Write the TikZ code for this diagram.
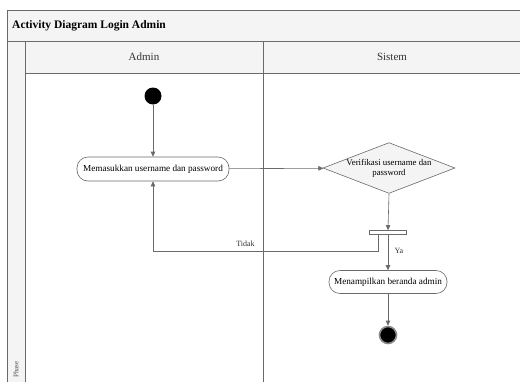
\documentclass[tikz,border=0pt]{standalone}
\usepackage{fontspec}
\setmainfont{Liberation Serif}
\usetikzlibrary{arrows.meta,shapes.geometric,calc}
\definecolor{ln}{HTML}{6A6A6A}
\definecolor{band}{HTML}{F4F4F4}
\tikzset{
  frame/.style={draw=ln, line width=0.7pt},
  act/.style={draw=ln, line width=0.6pt, rounded corners=11pt, fill=white, minimum width=152pt, minimum height=24pt, inner sep=0pt, font=\fontsize{9.2}{10}\selectfont},
  dec/.style={draw=ln, line width=0.6pt, diamond, fill=band, minimum width=126pt, minimum height=48pt, inner sep=0pt, aspect=2.6, font=\fontsize{8.8}{10}\selectfont, align=center},
  flow/.style={draw=ln, line width=0.6pt, -{Triangle[length=5pt,width=4.5pt]}},
  lbl/.style={font=\fontsize{8}{9}\selectfont, text=black!80},
  hdr/.style={font=\fontsize{11}{12}\selectfont, text=black!80}
}
\begin{document}
\begin{tikzpicture}[x=1pt,y=-1pt]
\useasboundingbox (0,0) rectangle (520,381);
\begin{scope}
\clip (0,0) rectangle (520,381);
% bands
\fill[white] (0,0) rectangle (520,381);
\fill[band] (7,10) rectangle (530,41);
\fill[band] (25,41) rectangle (530,73);
\fill[band] (7,41) rectangle (25,390);
\draw[frame] (7,390) -- (7,10) -- (530,10);
\draw[frame] (7,41) -- (530,41);
\draw[frame] (25,41) -- (25,390);
\draw[frame] (25,73) -- (530,73);
\draw[frame] (263,41) -- (263,390);
\end{scope}
\node[anchor=west, inner sep=1pt, font=\bfseries\fontsize{11.5}{12}\selectfont] (title) at (11,26) {Activity Diagram Login Admin};
\node[hdr] (admin) at (144,57) {Admin};
\node[hdr] (sistem) at (392,57) {Sistem};
\node[rotate=90, anchor=west, inner sep=0pt, font=\fontsize{7}{8}\selectfont, text=black!70] (phase) at (16,378) {Phase};
% nodes
\node[circle, fill=black, minimum size=17pt, inner sep=0pt] (start) at (153,96) {};
\node[act] (a1) at (153,169) {Memasukkan username dan password};
\node[dec] (d1) at (389,168) {Verifikasi username dan\\password};
\node[draw=ln, line width=0.6pt, fill=white, minimum width=37pt, minimum height=4pt, inner sep=0pt] (bar) at (388,232.5) {};
\node[act, minimum width=118pt, minimum height=23pt] (a2) at (388,282) {Menampilkan beranda admin};
\node[circle, draw=black!45, fill=black, line width=1.6pt, minimum size=17pt, inner sep=0pt] (endo) at (388,335) {};
\coordinate (bl) at ($(bar.south west)!0.25!(bar.south east)$);
% flows
\draw[flow] (start) -- (a1);
\draw[flow] (a1) -- (d1);
\draw[flow] (d1.south) -- (bar.north);
\draw[flow] (bl) -- ++(0,16) -| node[pos=0.295, above=1pt, lbl] {Tidak} (a1.south);
\draw[flow] (bar.south) -- node[pos=0.45, right=3pt, lbl] {Ya} (a2.north);
\draw[flow] (a2.south) -- (endo.north);
\end{tikzpicture}
\end{document}
